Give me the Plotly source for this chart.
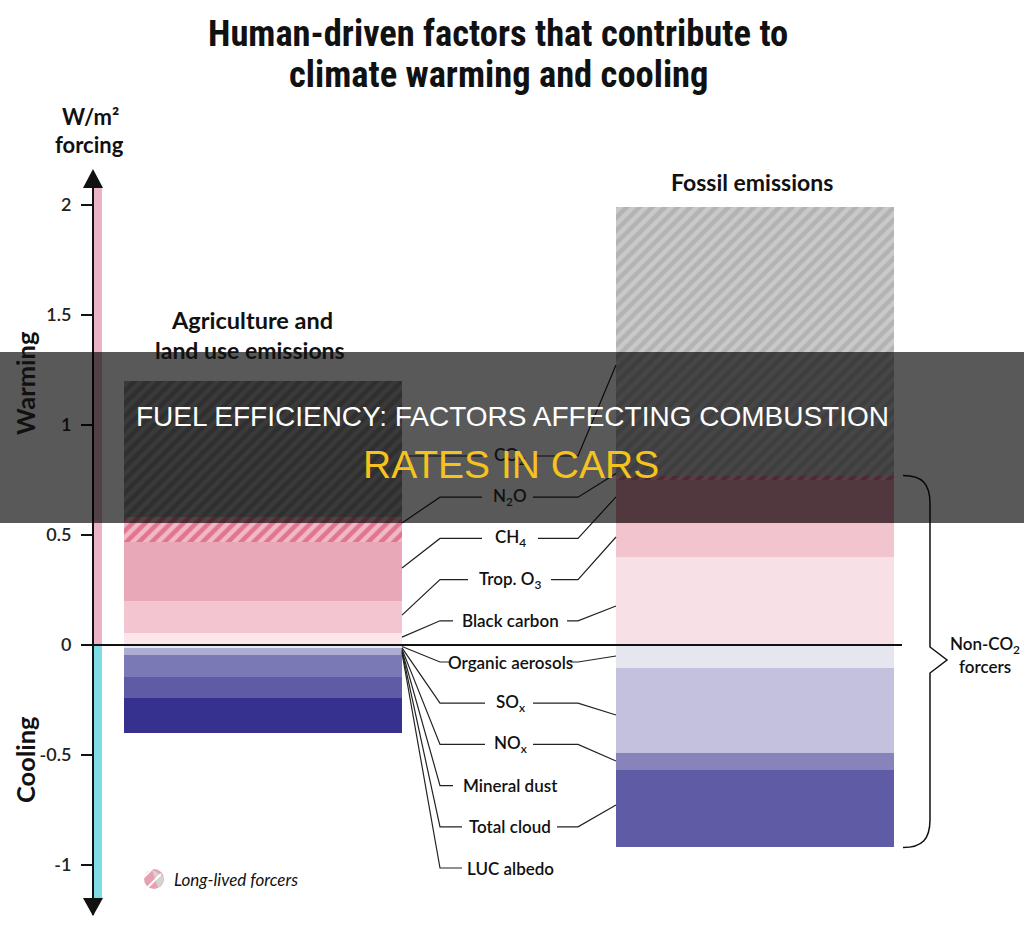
import plotly.graph_objects as go

# ---------------- data ----------------
categories = ["Agriculture and land use emissions", "Fossil emissions"]

warming_factors = ["Black carbon", "Trop. O3", "CH4", "N2O", "CO2"]        # stacked upward from zero
agri_warming = [0.055, 0.145, 0.27, 0.11, 0.62]
fossil_warming = [0.40, 0.155, 0.195, 0.02, 1.22]

cooling_factors = ["Organic aerosols", "SOx", "NOx", "Mineral dust", "Total cloud", "LUC albedo"]  # stacked downward
agri_cooling = [-0.015, -0.03, -0.10, 0.0, -0.095, -0.16]
fossil_cooling = [-0.105, -0.385, -0.08, 0.0, -0.35, 0.0]

tick_values = [2, 1.5, 1, 0.5, 0, -0.5, -1]
tick_labels = ["2", "1.5", "1", "0.5", "0", "-0.5", "-1"]

label_order = ["CO2", "N2O", "CH4", "Trop. O3", "Black carbon", "Organic aerosols",
               "SOx", "NOx", "Mineral dust", "Total cloud", "LUC albedo"]
label_text = {"CO2": "CO<sub>2</sub>", "N2O": "N<sub>2</sub>O", "CH4": "CH<sub>4</sub>",
              "Trop. O3": "Trop. O<sub>3</sub>", "Black carbon": "Black carbon",
              "Organic aerosols": "Organic aerosols", "SOx": "SO<sub>x</sub>", "NOx": "NO<sub>x</sub>",
              "Mineral dust": "Mineral dust", "Total cloud": "Total cloud", "LUC albedo": "LUC albedo"}

# ---------------- layout / style ----------------
W, H = 1024, 925
MT, MB = 172, 10
ZERO_PX, PX_PER_UNIT = 645, 220
y_range = [(ZERO_PX - (H - MB)) / PX_PER_UNIT, (ZERO_PX - MT) / PX_PER_UNIT]
CAT_PX = [263, 755]
CAT_STEP = CAT_PX[1] - CAT_PX[0]
x_range = [-CAT_PX[0] / CAT_STEP, (W - CAT_PX[0]) / CAT_STEP]
BAR_W = 278 / CAT_STEP

FONT = "Lato, Open Sans, sans-serif"
TITLE_FONT = "Liberation Sans Narrow, Arial Narrow, Roboto Condensed, DejaVu Sans Condensed, Lato, sans-serif"
BANNER_FONT = "Arial, Liberation Sans, sans-serif"
INK = "#111111"

colors = {
    "Black carbon": ["#fae6eb", "#f7e0e6"],
    "Trop. O3": ["#f2c5d0", "#f2c4ce"],
    "CH4": ["#e8a8b8", "#e4a2b3"],
    "N2O": ["#f2b8c6", "#f2b8c6"],
    "CO2": ["#a6a6a6", "#c9c9c9"],
    "Organic aerosols": ["#e8e8f0", "#e6e6ef"],
    "SOx": ["#aeacd3", "#c3c1de"],
    "NOx": ["#7b79b5", "#8884bb"],
    "Mineral dust": ["#6c69ad", "#6c69ad"],
    "Total cloud": ["#5f5ba5", "#5f5ba5"],
    "LUC albedo": ["#36318e", "#36318e"],
}
hatch_fg = {"N2O": ["#e07590", "#e07590"], "CO2": ["#878787", "#b3b3b3"]}

anchor_left = {"CO2": "row", "N2O": 0.555, "CH4": 0.35, "Trop. O3": 0.136, "Black carbon": 0.036}
anchor_right = {"CO2": 1.273, "N2O": 0.78, "CH4": 0.673, "Trop. O3": 0.491, "Black carbon": 0.177,
                "Organic aerosols": -0.05, "SOx": -0.318, "NOx": -0.527, "Total cloud": -0.727}
label_gap = {"CO2": (28, 25), "N2O": (28, 23), "CH4": (28, 28), "Trop. O3": (42, 41),
             "Black carbon": (57, 57), "Organic aerosols": (61, 60), "SOx": (25, 23), "NOx": (25, 23),
             "Mineral dust": (57, 0), "Total cloud": (48, 47), "LUC albedo": (48, 0)}
LABEL_X, LABEL_ROW0, LABEL_STEP = 510, 456, 41.2
LEFT_BEND, RIGHT_BEND = 440, 578


def X(px):
    return px / W


def Y(py):
    return (H - MB - py) / (H - MT - MB)


def py_of(v):
    return (H - MB) - (v - y_range[0]) / (y_range[1] - y_range[0]) * (H - MT - MB)


def bar_edge_px(c, side):
    return (c + side * BAR_W / 2 - x_range[0]) / (x_range[1] - x_range[0]) * W


def path(points):
    return "M " + " L ".join(f"{X(a):.5f},{Y(b):.5f}" for a, b in points)


fig = go.Figure()

for i, f in enumerate(warming_factors):
    vals = [agri_warming[i], fossil_warming[i]]
    if f in hatch_fg:
        for c in range(2):
            fig.add_trace(go.Bar(
                x=[categories[c]], y=[vals[c]], name=f, width=BAR_W, showlegend=False, hoverinfo="name+y",
                marker=dict(color=colors[f][c], line=dict(width=0),
                            pattern=dict(shape="/", fillmode="replace", bgcolor=colors[f][c],
                                         fgcolor=hatch_fg[f][c], fgopacity=1, size=9, solidity=0.5))))
    else:
        fig.add_trace(go.Bar(x=categories, y=vals, name=f, width=BAR_W, showlegend=False, hoverinfo="name+y",
                             marker=dict(color=colors[f], line=dict(width=0))))
for i, f in enumerate(cooling_factors):
    fig.add_trace(go.Bar(x=categories, y=[agri_cooling[i], fossil_cooling[i]], name=f,
                         marker=dict(color=colors[f], line=dict(width=0)), width=BAR_W,
                         showlegend=False, hoverinfo="name+y"))

shapes = []
ann = []
line_style = dict(color="#222", width=1.2)

AX = 93
shapes.append(dict(type="rect", xref="paper", yref="paper", x0=X(AX + 1), x1=X(102), y0=Y(ZERO_PX), y1=Y(188),
                   fillcolor="#eab4c4", line=dict(width=0), layer="above"))
shapes.append(dict(type="rect", xref="paper", yref="paper", x0=X(AX + 1), x1=X(102), y0=Y(898), y1=Y(ZERO_PX),
                   fillcolor="#7ddce7", line=dict(width=0), layer="above"))
shapes.append(dict(type="path", xref="paper", yref="paper",
                   path=path([(83, 188), (103, 188), (AX, 169)]) + " Z",
                   fillcolor="#111", line=dict(width=0), layer="above"))
shapes.append(dict(type="path", xref="paper", yref="paper",
                   path=path([(83, 898), (103, 898), (AX, 916)]) + " Z",
                   fillcolor="#111", line=dict(width=0), layer="above"))
shapes.append(dict(type="line", xref="paper", yref="paper", x0=X(AX), x1=X(902), y0=Y(ZERO_PX), y1=Y(ZERO_PX),
                   line=dict(color="#111", width=2), layer="above"))

left_edge = bar_edge_px(0, +1)
right_edge = bar_edge_px(1, -1)
neg_i = 0
for r, key in enumerate(label_order):
    row_py = LABEL_ROW0 + r * LABEL_STEP
    gl, gr = label_gap[key]
    if key in anchor_left:
        a = anchor_left[key]
        if a == "row":
            pts = [(left_edge, row_py), (LABEL_X - gl, row_py)]
        else:
            pts = [(left_edge, py_of(a)), (LEFT_BEND, row_py), (LABEL_X - gl, row_py)]
    else:
        pts = [(left_edge, ZERO_PX + 1.5 + neg_i * 1.3), (LEFT_BEND, row_py), (LABEL_X - gl, row_py)]
        neg_i += 1
    shapes.append(dict(type="path", xref="paper", yref="paper", path=path(pts), line=line_style, layer="above"))
    if key in anchor_right:
        pts = [(LABEL_X + gr, row_py), (RIGHT_BEND, row_py), (right_edge, py_of(anchor_right[key]))]
        shapes.append(dict(type="path", xref="paper", yref="paper", path=path(pts), line=line_style, layer="above"))
    ann.append(dict(text=label_text[key], x=X(LABEL_X), y=Y(row_py), font=dict(size=17, weight=600)))

top = py_of(sum(fossil_warming[:4]))
bot = py_of(sum(fossil_cooling))
mid = 660
bx0, bx1, tip = 903, 930, 947
brace = ("M {0},{1} C {2},{1} {3},{4} {3},{5} L {3},{6} L {7},{8} L {3},{9} L {3},{10} C {3},{11} {2},{12} {0},{12}"
         .format(f"{X(bx0):.5f}", f"{Y(top):.5f}", f"{X(922):.5f}", f"{X(bx1):.5f}", f"{Y(top + 8):.5f}",
                 f"{Y(top + 28):.5f}", f"{Y(mid - 13):.5f}", f"{X(tip):.5f}", f"{Y(mid):.5f}",
                 f"{Y(mid + 13):.5f}", f"{Y(bot - 28):.5f}", f"{Y(bot - 8):.5f}", f"{Y(bot):.5f}"))
shapes.append(dict(type="path", xref="paper", yref="paper", path=brace, line=dict(color="#111", width=1.5),
                   layer="above"))

cx, cy, rr = 154, 879, 10
shapes.append(dict(type="circle", xref="paper", yref="paper", x0=X(cx - rr), x1=X(cx + rr), y0=Y(cy + rr),
                   y1=Y(cy - rr), fillcolor="#e7a1b3", line=dict(width=0), layer="above"))
shapes.append(dict(type="path", xref="paper", yref="paper",
                   path=path([(cx - 2, cy - 9.8), (cx + 9.8, cy - 2), (cx + 9, cy + 4), (cx + 4, cy + 9), (cx - 2, cy - 9.8)]) + " Z",
                   fillcolor="#d4d4d4", line=dict(width=0), layer="above"))
for d in (-5, 2):
    shapes.append(dict(type="line", xref="paper", yref="paper", x0=X(cx - 8 + d), y0=Y(cy + 6 + d),
                       x1=X(cx + 5 + d), y1=Y(cy - 7 + d), line=dict(color="white", width=2), layer="above"))

shapes.append(dict(type="rect", xref="paper", yref="paper", x0=0, x1=1, y0=Y(523), y1=Y(352),
                   fillcolor="rgba(0,0,0,0.65)", line=dict(width=0), layer="above"))

ann += [
    dict(text="Human-driven factors that contribute to", x=X(498), y=Y(33),
         font=dict(family=TITLE_FONT, size=36.5, weight=700, color="#111")),
    dict(text="climate warming and cooling", x=X(498), y=Y(75),
         font=dict(family=TITLE_FONT, size=36.5, weight=700, color="#111")),
    dict(text="W/m²", x=X(90), y=Y(116), font=dict(size=22, weight=700)),
    dict(text="forcing", x=X(89), y=Y(145), font=dict(size=22, weight=700)),
    dict(text="Warming", x=X(25), y=Y(383), textangle=-90, font=dict(size=25.5, weight=700)),
    dict(text="Cooling", x=X(25), y=Y(760), textangle=-90, font=dict(size=25.5, weight=700)),
    dict(text="Agriculture and", x=X(252), y=Y(320), font=dict(size=23.5, weight=700)),
    dict(text="land use emissions", x=X(250), y=Y(350), font=dict(size=23, weight=700)),
    dict(text="Fossil emissions", x=X(752), y=Y(182), font=dict(size=23, weight=700)),
    dict(text="Non-CO<sub>2</sub>", x=X(985), y=Y(645), font=dict(size=17, weight=600)),
    dict(text="forcers", x=X(985), y=Y(666), font=dict(size=17, weight=600)),
    dict(text="Long-lived forcers", x=X(172), y=Y(879), xanchor="left",
         font=dict(size=17, style="italic", weight=400)),
    dict(text="FUEL EFFICIENCY: FACTORS AFFECTING COMBUSTION", x=X(512), y=Y(416),
         font=dict(family=BANNER_FONT, size=28, color="white")),
    dict(text="RATES IN CARS", x=X(511), y=Y(464),
         font=dict(family=BANNER_FONT, size=39, color="#f6c31c")),
]
for a in ann:
    a.setdefault("xref", "paper")
    a.setdefault("yref", "paper")
    a.setdefault("showarrow", False)
    a.setdefault("xanchor", "center")
    a.setdefault("yanchor", "middle")
    f = a["font"]
    f.setdefault("family", FONT)
    f.setdefault("color", INK)

fig.update_layout(
    width=W, height=H, margin=dict(l=0, r=0, t=MT, b=MB),
    paper_bgcolor="white", plot_bgcolor="white",
    barmode="relative", bargap=0,
    xaxis=dict(type="category", range=x_range, visible=False, showgrid=False, zeroline=False),
    yaxis=dict(range=y_range, anchor="free", position=AX / W, side="left",
               tickvals=tick_values, ticktext=tick_labels, ticks="outside", ticklen=11, tickwidth=2,
               tickcolor="#111", showline=True, linecolor="#111", linewidth=2, showgrid=False,
               zeroline=False, ticklabelstandoff=6,
               tickfont=dict(family=FONT, size=18, weight=600, color="#222")),
    shapes=shapes, annotations=ann,
)

fig.write_html("out.html")
